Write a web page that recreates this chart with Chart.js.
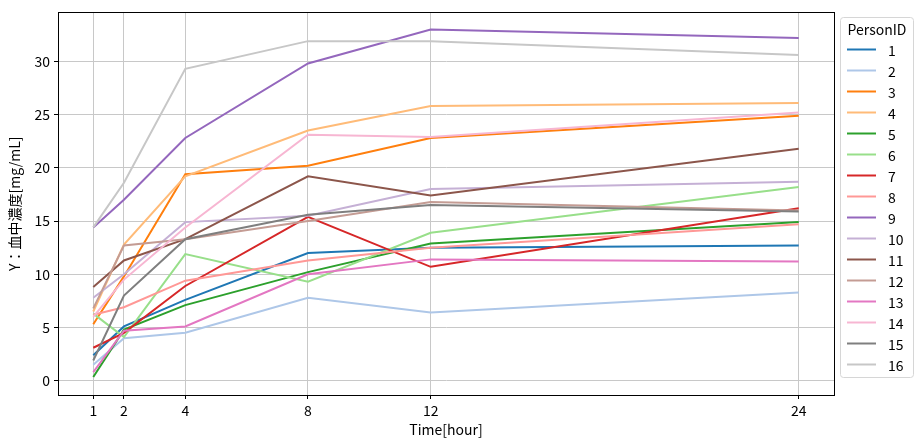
<!DOCTYPE html>
<html>
<head>
<meta charset="utf-8">
<script src="https://cdn.jsdelivr.net/npm/chart.js@4/dist/chart.umd.min.js"></script>
<style>
  html, body { margin: 0; padding: 0; background: #fff; }
  #wrap { width: 922px; height: 448px; position: relative; }
</style>
</head>
<body>
<div id="wrap"><canvas id="chart"></canvas></div>
<script>
// sampling times [hour]
const times = [1, 2, 4, 8, 12, 24];
const xTicks = [1, 2, 4, 8, 12, 24];
const yTicks = [0, 5, 10, 15, 20, 25, 30];
const personIds = ["1", "2", "3", "4", "5", "6", "7", "8", "9", "10", "11", "12", "13", "14", "15", "16"];

// blood concentration [mg/mL] per person
const person1 = [2.4, 5.1, 7.6, 12.0, 12.5, 12.7];
const person2 = [1.5, 4.0, 4.5, 7.8, 6.4, 8.3];
const person3 = [5.3, 9.8, 19.4, 20.2, 22.8, 24.9];
const person4 = [6.5, 12.8, 19.2, 23.5, 25.8, 26.1];
const person5 = [0.35, 4.8, 7.1, 10.2, 12.9, 14.9];
const person6 = [6.3, 4.1, 11.9, 9.3, 13.9, 18.2];
const person7 = [3.1, 4.5, 8.9, 15.4, 10.7, 16.2];
const person8 = [6.2, 6.9, 9.4, 11.3, 12.5, 14.7];
const person9 = [14.4, 17.0, 22.8, 29.8, 33.0, 32.2];
const person10 = [7.8, 10.0, 14.9, 15.5, 18.0, 18.7];
const person11 = [8.8, 11.3, 13.3, 19.2, 17.4, 21.8];
const person12 = [6.8, 12.7, 13.3, 15.0, 16.8, 16.0];
const person13 = [0.8, 4.7, 5.1, 10.0, 11.4, 11.2];
const person14 = [6.0, 9.5, 14.4, 23.1, 22.9, 25.2];
const person15 = [1.9, 8.0, 13.3, 15.6, 16.5, 15.9];
const person16 = [14.4, 18.6, 29.3, 31.9, 31.9, 30.6];

const series = [person1, person2, person3, person4, person5, person6, person7, person8,
  person9, person10, person11, person12, person13, person14, person15, person16];

// tab20 palette
const palette = ["#1f77b4", "#aec7e8", "#ff7f0e", "#ffbb78", "#2ca02c", "#98df8a",
  "#d62728", "#ff9896", "#9467bd", "#c5b0d5", "#8c564b", "#c49c94",
  "#e377c2", "#f7b6d2", "#7f7f7f", "#c7c7c7"];

const FONT = "'Noto Sans CJK JP', 'Noto Sans', sans-serif";
Chart.defaults.font.family = FONT;
Chart.defaults.font.size = 14;
Chart.defaults.color = "#000";

const datasets = series.map((vals, i) => ({
  label: personIds[i],
  data: vals.map((v, j) => ({ x: times[j], y: v })),
  borderColor: palette[i],
  backgroundColor: palette[i],
  borderWidth: 2,
  pointRadius: 0,
  tension: 0,
  order: series.length - i,
}));

// frame round the plot + matplotlib style legend
const frameAndLegend = {
  id: "frameAndLegend",
  afterDraw(chart) {
    const { ctx, chartArea: a } = chart;
    ctx.save();
    ctx.strokeStyle = "#000";
    ctx.lineWidth = 1;
    ctx.strokeRect(Math.round(a.left) + 0.5, Math.round(a.top) + 0.5,
      Math.round(a.right - a.left), Math.round(a.bottom - a.top));

    const lx = 840, ly = 17, lw = 73, lh = 360;
    ctx.beginPath();
    ctx.roundRect(lx + 0.5, ly + 0.5, lw, lh, 3);
    ctx.fillStyle = "rgba(255,255,255,0.8)";
    ctx.fill();
    ctx.strokeStyle = "#d6d6d6";
    ctx.stroke();

    ctx.fillStyle = "#000";
    ctx.font = "14px " + FONT;
    ctx.textAlign = "center";
    ctx.textBaseline = "middle";
    ctx.fillText("PersonID", lx + lw / 2 + 0.5, 30);

    ctx.textAlign = "left";
    chart.data.datasets.forEach((ds, i) => {
      const y = 49.5 + i * 21;
      ctx.strokeStyle = ds.borderColor;
      ctx.lineWidth = 2;
      ctx.beginPath();
      ctx.moveTo(847, y);
      ctx.lineTo(876, y);
      ctx.stroke();
      ctx.fillStyle = "#000";
      ctx.fillText(ds.label, 888, y + 1);
    });
    ctx.restore();
  }
};

new Chart("chart", {
  type: "line",
  data: { datasets },
  options: {
    responsive: true,
    maintainAspectRatio: false,
    animation: false,
    devicePixelRatio: 1,
    layout: { padding: { left: 0, right: 88, top: 8, bottom: 0 } },
    plugins: {
      legend: { display: false },
      tooltip: { enabled: false },
    },
    scales: {
      x: {
        type: "linear",
        min: -0.15,
        max: 25.15,
        afterBuildTicks: (s) => { s.ticks = xTicks.map((v) => ({ value: v })); },
        afterFit: (s) => { s.height = 53; },
        ticks: { padding: 3, autoSkip: false, maxRotation: 0, font: { size: 14 } },
        grid: { color: "#c8c8c8", lineWidth: 1, tickLength: 4, tickColor: "#000" },
        border: { display: true, color: "#000", width: 1 },
        title: { display: true, text: "Time[hour]", font: { size: 14 }, padding: { top: 0, bottom: 10 } },
      },
      y: {
        type: "linear",
        min: -1.34,
        max: 34.6,
        afterBuildTicks: (s) => { s.ticks = yTicks.map((v) => ({ value: v })); },
        afterFit: (s) => { s.width = 58; },
        ticks: { padding: 4, font: { size: 14 } },
        grid: { color: "#c8c8c8", lineWidth: 1, tickLength: 4, tickColor: "#000" },
        border: { display: true, color: "#000", width: 1 },
        title: { display: true, text: "Y：血中濃度[mg/mL]", font: { size: 14 }, padding: { top: 6, bottom: 0 } },
      },
    },
  },
  plugins: [frameAndLegend],
});
</script>
</body>
</html>
